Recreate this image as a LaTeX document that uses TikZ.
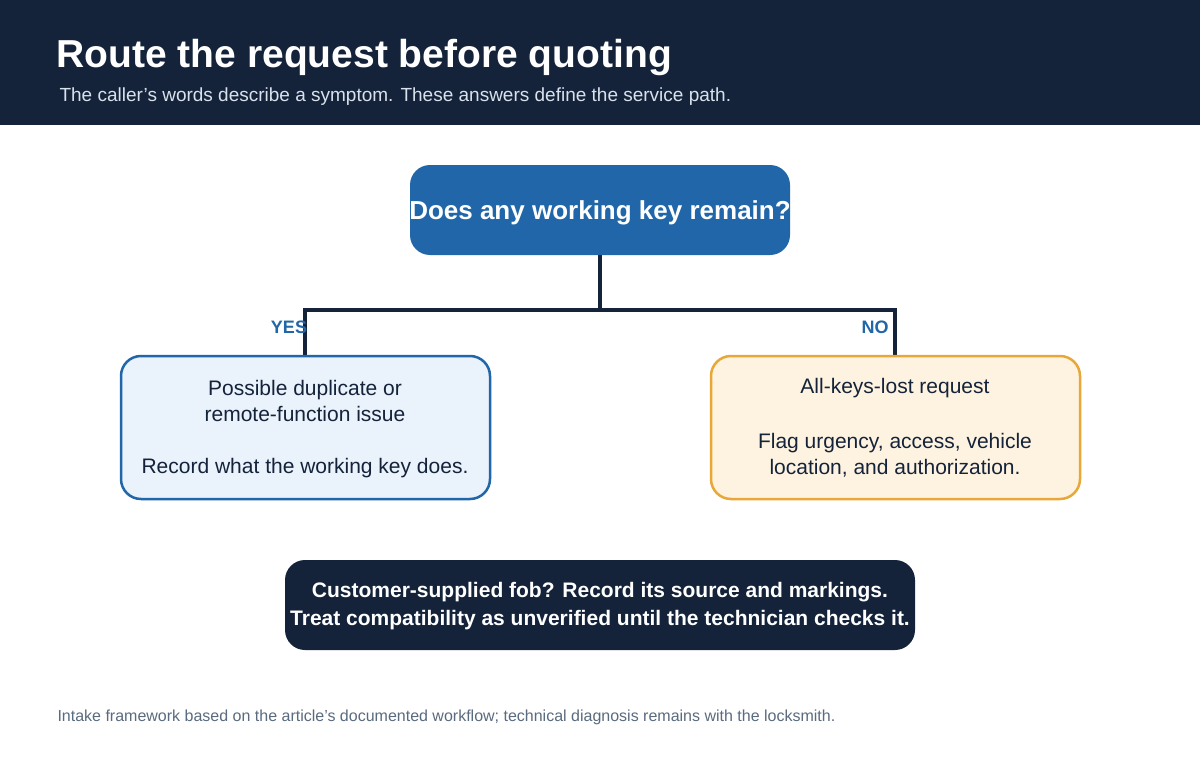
\documentclass[tikz,border=0pt]{standalone}
\usepackage{fontspec}
\setmainfont{Liberation Sans}
\definecolor{navy}{HTML}{14233A}
\definecolor{blu}{HTML}{2166A8}
\definecolor{lblu}{HTML}{EAF2FB}
\definecolor{lorg}{HTML}{FEF3E0}
\definecolor{org}{HTML}{E8A838}
\definecolor{sub}{HTML}{D9E2EC}
\definecolor{foot}{HTML}{5A6B7F}
\begin{document}
\begin{tikzpicture}[x=1pt,y=-1pt,
  box/.style={rounded corners=20pt},
  conn/.style={draw=navy,line width=4pt},
  lab/.style={text=blu,font=\fontsize{18}{20}\selectfont\bfseries},
  body/.style={text=navy,font=\fontsize{21}{26}\selectfont,align=center}]
\useasboundingbox (0,0) rectangle (1200,760);
\fill[white] (0,0) rectangle (1200,760);
\fill[navy] (0,0) rectangle (1200,125);
\node[anchor=base west,text=white,font=\fontsize{39}{44}\selectfont\bfseries] (title) at (53,67) {Route the request before quoting};
\node[anchor=base west,text=sub,font=\fontsize{19}{22}\selectfont] (subt) at (56,102) {The caller’s words describe a symptom. These answers define the service path.};
% top box
\fill[blu,box] (410,165) rectangle (790,255);
\begin{scope}
\clip (410,165) rectangle (790,255);
\node[text=white,font=\fontsize{26}{30}\selectfont\bfseries] (q) at (600,213) {Does any working key remain?};
\end{scope}
\coordinate (qb) at (600,255);
\coordinate (j) at (600,310);
\coordinate (lt) at (305,310);
\coordinate (rt) at (895,310);
\coordinate (lb) at (305,356);
\coordinate (rb) at (895,356);
\draw[conn] (qb) -- (j);
\draw[conn,line cap=rect] (lt) -- (rt);
\draw[conn] (lt) -- (lb);
\draw[conn] (rt) -- (rb);
\node[lab] (yes) at (289,327) {YES};
\node[lab] (no) at (875,327) {NO};
% left
\draw[fill=lblu,draw=blu,line width=2.5pt,box] (121,356) rectangle (490,499);
\node[body] (l1) at (305,401) {Possible duplicate or\\remote-function issue};
\node[body] (l2) at (305,468) {Record what the working key does.};
% right
\draw[fill=lorg,draw=org,line width=2.5pt,box] (711,356) rectangle (1080,499);
\node[body] (r1) at (895,388) {All-keys-lost request};
\node[body] (r2) at (895,455) {Flag urgency, access, vehicle\\location, and authorization.};
% bottom
\fill[navy,box] (285,560) rectangle (915,650);
\begin{scope}
\clip (285,560) rectangle (915,650);
\node[text=white,font=\fontsize{21}{28}\selectfont\bfseries,align=center] (b) at (600,606) {Customer-supplied fob? Record its source and markings.\\Treat compatibility as unverified until the technician checks it.};
\end{scope}
\node[anchor=base west,text=foot,font=\fontsize{16}{18}\selectfont] (f) at (54,721) {Intake framework based on the article’s documented workflow; technical diagnosis remains with the locksmith.};
\end{tikzpicture}
\end{document}
